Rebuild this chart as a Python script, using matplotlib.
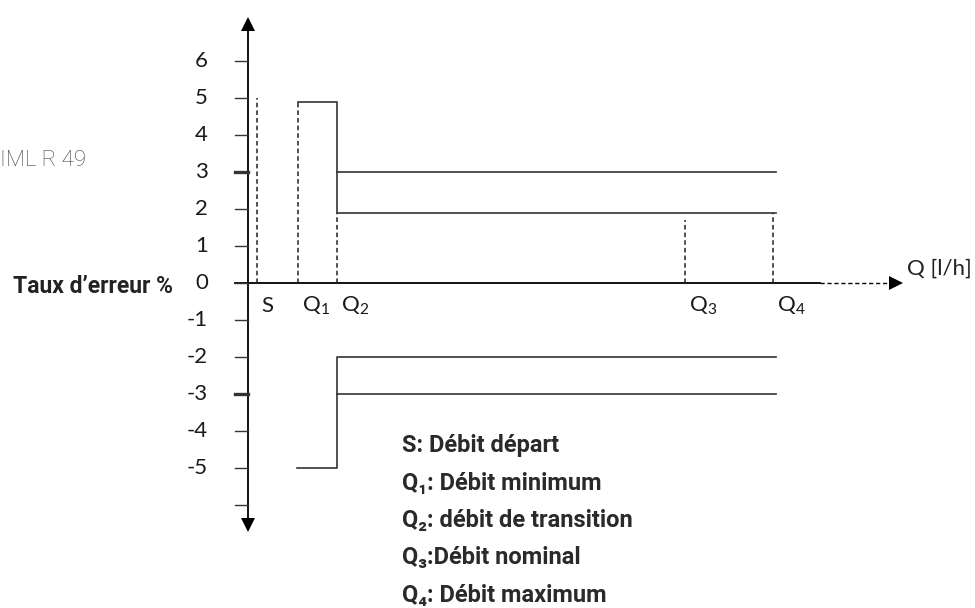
import matplotlib
matplotlib.use('Agg')
import matplotlib.pyplot as plt

plt.rcParams['mathtext.fontset'] = 'custom'
plt.rcParams['mathtext.rm'] = 'Lato'
plt.rcParams['mathtext.it'] = 'Lato'

# y axis ticks (error %), labelled ones and the thick ones
y_ticks = [6, 5, 4, 3, 2, 1, 0, -1, -2, -3, -4, -5]
extra_ticks = [-6]
thick_ticks = [3, -3]

# flow points on the Q axis (arbitrary units)
q_labels = ['S', 'Q$_{1}$', 'Q$_{2}$', 'Q$_{3}$', 'Q$_{4}$']
q_pos = [9, 50, 89, 437, 525]
q_dash_top = [5, 4.9, 1.9, 1.7, 1.9]
q_end = 528

# error envelopes
upper_x = [50, 89, 89, q_end]
upper_y = [4.9, 4.9, 1.9, 1.9]
upper2_x = [89, q_end]
upper2_y = [3, 3]
lower_x = [49, 89, 89, q_end]
lower_y = [-5, -5, -2, -2]
lower2_x = [89, q_end]
lower2_y = [-3, -3]

legend_lines = ['S: Débit départ', 'Q₁: Débit minimum', 'Q₂: débit de transition',
                'Q₃:Débit nominal', 'Q₄: Débit maximum']

W, H = 975, 608
x0, y0, scale = 248, 283, 37.0

fig = plt.figure(figsize=(W / 100, H / 100), dpi=100)
ax = fig.add_axes([0, 0, 1, 1])
ax.set_xlim(-x0, W - x0)
ax.set_ylim((y0 - H) / scale, y0 / scale)
ax.axis('off')

line_col = '#333333'
num_font = 'Lato'

# y axis with arrows at both ends
ax.plot([0, 0], [-6.5, 7.0], color='black', lw=1.3)
ax.plot([0], [7.0], marker='^', color='black', ms=10, mew=0)
ax.plot([0], [-6.55], marker='v', color='black', ms=10, mew=0)

# x axis: solid part, dashed part, arrow
ax.plot([-13, 572], [0, 0], color='black', lw=1.3)
ax.plot([572, 645], [0, 0], color='black', lw=1.0, ls=(0, (3, 2)))
ax.plot([648], [0], marker='>', color='black', ms=10, mew=0)
ax.text(659, 0.4, 'Q [l/h]', fontsize=16, family=num_font, color='#222222',
        ha='left', va='center')

# ticks and labels
for t in y_ticks + extra_ticks:
    lw = 2.4 if t in thick_ticks else 1.0
    ax.plot([-13, 0], [t, t], color='#333333', lw=lw)
for t in y_ticks:
    ax.text(-40, t, str(t), fontsize=16, family=num_font, color='#1a1a1a',
            ha='right', va='center')

# dashed verticals for flow points
for lab, x, top in zip(q_labels, q_pos, q_dash_top):
    ax.plot([x, x], [0, top], color='#222222', lw=1.1, ls=(0, (3, 2)))
    ax.text(x + 4, -0.62, lab, fontsize=16, family=num_font, color='#1a1a1a',
            ha='left', va='center')

# envelopes
for xs, ys in [(upper_x, upper_y), (upper2_x, upper2_y), (lower_x, lower_y), (lower2_x, lower2_y)]:
    ax.plot(xs, ys, color=line_col, lw=1.2)

# side labels
ax.text(-x0, 3.3, 'IML R 49', fontsize=16, family='Roboto', fontweight='light',
        color='#444444', ha='left', va='center')
ax.text(-235, -0.1, 'Taux d’erreur %', fontsize=16.5, family='Roboto', fontweight='bold',
        color='#222222', ha='left', va='center')

# legend text
for i, s in enumerate(legend_lines):
    ax.text(154, -4.4 - i * 1.01, s, fontsize=17, family=['Roboto', 'DejaVu Sans'],
            fontweight='bold', color='#2a2a2a', ha='left', va='center')

fig.savefig('out.png', dpi=100)
